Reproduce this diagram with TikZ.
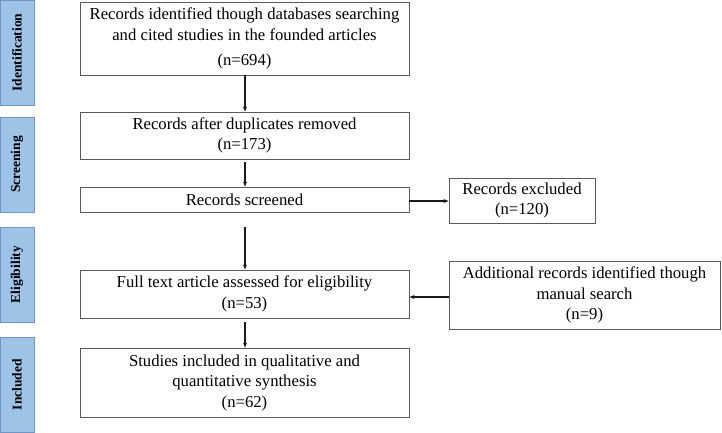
\documentclass[tikz,border=0pt]{standalone}
\usepackage{fontspec}
\setmainfont{Liberation Serif}
\usepackage{xcolor}
\usetikzlibrary{arrows.meta}
\definecolor{stagefill}{HTML}{9DC3E6}
\definecolor{stageedge}{HTML}{6F95C4}
\definecolor{boxedge}{HTML}{5A5A5A}
\definecolor{arrowc}{HTML}{1A1A1A}
\tikzset{
  stage/.style={draw=stageedge, line width=0.9pt, fill=stagefill, rotate=90,
    minimum width=95pt, minimum height=34pt, inner sep=0pt,
    font=\fontsize{13.5}{16}\selectfont\bfseries},
  flowbox/.style={draw=boxedge, line width=0.9pt, fill=white, align=center,
    inner sep=0pt, font=\fontsize{16.7}{20.5}\selectfont},
  arr/.style={draw=arrowc, line width=1.1pt, -{Stealth[length=5pt,width=4pt]}}
}
\begin{document}
\begin{tikzpicture}[x=1pt,y=-1pt]
  \useasboundingbox (0,0) rectangle (722,432);

  % stage labels
  \node[stage, minimum width=105pt] (ident) at (17,52.5) {Identification};
  \node[stage] (screen) at (17,164.5) {Screening};
  \node[stage] (elig) at (17,274.5) {Eligibility};
  \node[stage] (incl) at (17,384.5) {Included};

  % main column
  \node[flowbox, minimum width=329pt, minimum height=73pt] (found) at (244.5,38.5)
    {Records identified though databases searching\\and cited studies in the founded articles\\[5pt](n=694)};
  \node[flowbox, minimum width=329pt, minimum height=47pt] (dedup) at (244.5,135.5)
    {Records after duplicates removed\\(n=173)};
  \node[flowbox, minimum width=329pt, minimum height=25pt] (screened) at (244.5,199.5)
    {Records screened};
  \node[flowbox, minimum width=329pt, minimum height=48pt] (fulltext) at (244.5,294)
    {Full text article assessed for eligibility\\(n=53)};
  \node[flowbox, minimum width=329pt, minimum height=69pt] (synth) at (244.5,382.5)
    {Studies included in qualitative and\\quantitative synthesis\\(n=62)};

  % side boxes
  \node[flowbox, minimum width=146pt, minimum height=45pt] (excl) at (522,200.5)
    {Records excluded\\(n=120)};
  \node[flowbox, minimum width=271pt, minimum height=68pt] (manual) at (584.5,295)
    {Additional records identified though\\manual search\\(n=9)};

  % arrows
  \coordinate (gap) at (245,227);
  \draw[arr] (found.south -| 245,0) -- (dedup.north -| 245,0);
  \draw[arr] ([yshift=-3pt]dedup.south -| 245,0) -- (screened.north -| 245,0);
  \draw[arr] (gap) -- (fulltext.north -| 245,0);
  \draw[arr] ([yshift=-4pt]fulltext.south -| 245,0) -- (synth.north -| 245,0);
  \draw[arr] (screened.east |- 0,201) -- (excl.west |- 0,201);
  \draw[arr] (manual.west |- 0,297) -- (fulltext.east |- 0,297);
\end{tikzpicture}
\end{document}
